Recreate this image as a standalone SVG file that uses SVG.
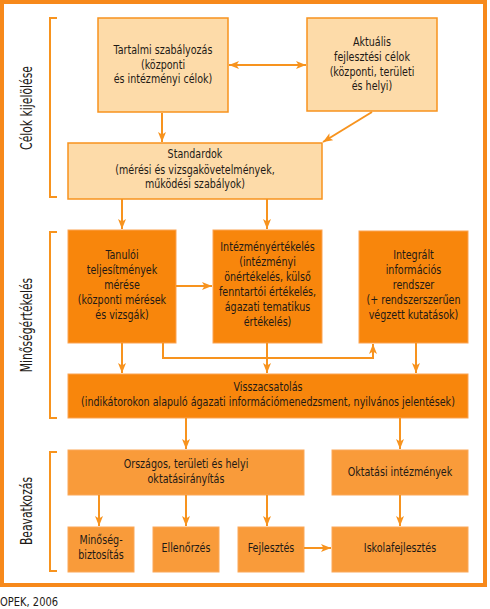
<svg xmlns="http://www.w3.org/2000/svg" width="490" height="609" viewBox="0 0 490 609">
<defs>
<marker id="ah" viewBox="0 0 10 8" refX="10" refY="4" markerWidth="10" markerHeight="8" markerUnits="userSpaceOnUse" orient="auto-start-reverse">
<path d="M0,0 L10,4 L0,8 L2.5,4 Z" fill="#F7931E"/>
</marker>
</defs>
<style>
text{font-family:"Liberation Sans Narrow","DejaVu Sans Condensed","Liberation Sans",sans-serif;font-size:12.5px;fill:#1e1a16;text-anchor:middle}
.lab{font-size:16px}
.b1{fill:#FDDBA9;stroke:#F7931E;stroke-width:1.5}
.b2{fill:#F8860C;stroke:#FBA352;stroke-width:1}
.b3{fill:#F99B3A;stroke:#FBA858;stroke-width:1}
.c{fill:none;stroke:#F7931E;stroke-width:2}
.br{fill:none;stroke:#F7931E;stroke-width:2}
</style>
<rect x="2" y="2" width="483" height="583" fill="#fff" stroke="#F7891A" stroke-width="4"/>

<g id="brackets">
<path class="br" d="M57,18 H50 V197 H57"/>
<path class="br" d="M57,232 H50 V418 H57"/>
<path class="br" d="M57,452 H50 V571 H57"/>
<text class="lab" transform="translate(32,108) rotate(-90) scale(0.75,1)">Célok kijelölése</text>
<text class="lab" transform="translate(32,325) rotate(-90) scale(0.75,1)">Minőségértékelés</text>
<text class="lab" transform="translate(32,511) rotate(-90) scale(0.75,1)">Beavatkozás</text>
</g>

<g id="n-tartalmi"><rect class="b1" x="98" y="18" width="130" height="94"/>
<g transform="matrix(0.85 0 0 1 24.45 0)"><text x="163" y="54.5">Tartalmi szabályozás</text><text x="163" y="69">(központi</text><text x="163" y="83.5">és intézményi célok)</text></g></g>

<g id="n-aktualis"><rect class="b1" x="307" y="18" width="130" height="93"/>
<g transform="matrix(0.85 0 0 1 55.8 0)"><text x="372" y="46">Aktuális</text><text x="372" y="61">fejlesztési célok</text><text x="372" y="76">(központi, területi</text><text x="372" y="90.5">és helyi)</text></g></g>

<g id="n-standardok"><rect class="b1" x="68" y="143" width="254" height="56"/>
<g transform="matrix(0.85 0 0 1 29.25 0)"><text x="195" y="158.5">Standardok</text><text x="195" y="174">(mérési és vizsgakövetelmények,</text><text x="195" y="188.5">működési szabályok)</text></g></g>

<g id="n-tanuloi"><rect class="b2" x="68" y="230" width="108" height="113"/>
<g transform="matrix(0.85 0 0 1 18.3 0)"><text x="122" y="259">Tanulói</text><text x="122" y="274">teljesítmények</text><text x="122" y="289">mérése</text><text x="122" y="304">(központi mérések</text><text x="122" y="319">és vizsgák)</text></g></g>

<g id="n-intezmeny"><rect class="b2" x="213" y="230" width="109" height="113"/>
<g transform="matrix(0.85 0 0 1 40.125 0)"><text x="267.5" y="251">Intézményértékelés</text><text x="267.5" y="266">(intézményi</text><text x="267.5" y="281">önértékelés, külső</text><text x="267.5" y="296.5">fenntartói értékelés,</text><text x="267.5" y="311.5">ágazati tematikus</text><text x="267.5" y="326.5">értékelés)</text></g></g>

<g id="n-integralt"><rect class="b2" x="359" y="231" width="109" height="112"/>
<g transform="matrix(0.85 0 0 1 62.025 0)"><text x="413.5" y="259">Integrált</text><text x="413.5" y="274">információs</text><text x="413.5" y="289">rendszer</text><text x="413.5" y="304">(+ rendszerszerűen</text><text x="413.5" y="319">végzett kutatások)</text></g></g>

<g id="n-visszacsatolas"><rect class="b2" x="68" y="374" width="400" height="44"/>
<g transform="matrix(0.85 0 0 1 40.2 0)"><text x="268" y="391">Visszacsatolás</text><text x="268" y="406">(indikátorokon alapuló ágazati információmenedzsment, nyilvános jelentések)</text></g></g>

<g id="n-orszagos"><rect class="b3" x="68" y="450" width="236" height="45"/>
<g transform="matrix(0.85 0 0 1 27.9 0)"><text x="186" y="468.5">Országos, területi és helyi</text><text x="186" y="483.5">oktatásirányítás</text></g></g>

<g id="n-oktatasi"><rect class="b3" x="332" y="450" width="136" height="45"/>
<g transform="matrix(0.85 0 0 1 60 0)"><text x="400" y="476">Oktatási intézmények</text></g></g>

<g id="n-minoseg"><rect class="b3" x="68" y="527" width="66" height="45"/>
<g transform="matrix(0.85 0 0 1 15.15 0)"><text x="101" y="544">Minőség-</text><text x="101" y="559">biztosítás</text></g></g>

<g id="n-ellenorzes"><rect class="b3" x="153" y="527" width="66" height="45"/>
<g transform="matrix(0.85 0 0 1 27.9 0)"><text x="186" y="552">Ellenőrzés</text></g></g>

<g id="n-fejlesztes"><rect class="b3" x="238" y="527" width="66" height="45"/>
<g transform="matrix(0.85 0 0 1 40.65 0)"><text x="271" y="552">Fejlesztés</text></g></g>

<g id="n-iskola"><rect class="b3" x="332" y="527" width="136" height="45"/>
<g transform="matrix(0.85 0 0 1 60 0)"><text x="400" y="552">Iskolafejlesztés</text></g></g>

<g id="connectors">
<line class="c" x1="229" y1="65" x2="306" y2="65" marker-start="url(#ah)" marker-end="url(#ah)"/>
<line class="c" x1="162" y1="113" x2="162" y2="142" marker-end="url(#ah)"/>
<line class="c" x1="372" y1="112" x2="323" y2="142" marker-end="url(#ah)"/>
<line class="c" x1="122" y1="199" x2="122" y2="229" marker-end="url(#ah)"/>
<line class="c" x1="267" y1="199" x2="267" y2="229" marker-end="url(#ah)"/>
<line class="c" x1="176" y1="286" x2="212" y2="286" marker-end="url(#ah)"/>
<path class="c" d="M163,343 V358 H373 V344" marker-end="url(#ah)"/>
<line class="c" x1="122" y1="343" x2="122" y2="373" marker-end="url(#ah)"/>
<line class="c" x1="267" y1="343" x2="267" y2="373" marker-end="url(#ah)"/>
<line class="c" x1="416" y1="343" x2="416" y2="373" marker-end="url(#ah)"/>
<line class="c" x1="186" y1="418" x2="186" y2="449" marker-end="url(#ah)"/>
<line class="c" x1="400" y1="418" x2="400" y2="449" marker-end="url(#ah)"/>
<line class="c" x1="99" y1="495" x2="99" y2="526" marker-end="url(#ah)"/>
<line class="c" x1="186" y1="495" x2="186" y2="526" marker-end="url(#ah)"/>
<line class="c" x1="267" y1="495" x2="267" y2="526" marker-end="url(#ah)"/>
<line class="c" x1="400" y1="495" x2="400" y2="526" marker-end="url(#ah)"/>
<line class="c" x1="304" y1="548" x2="331" y2="548" marker-end="url(#ah)"/>
</g>

<text x="0" y="606" transform="matrix(0.92 0 0 1 0 0)" style="text-anchor:start;font-size:12px">OPEK, 2006</text>
</svg>
